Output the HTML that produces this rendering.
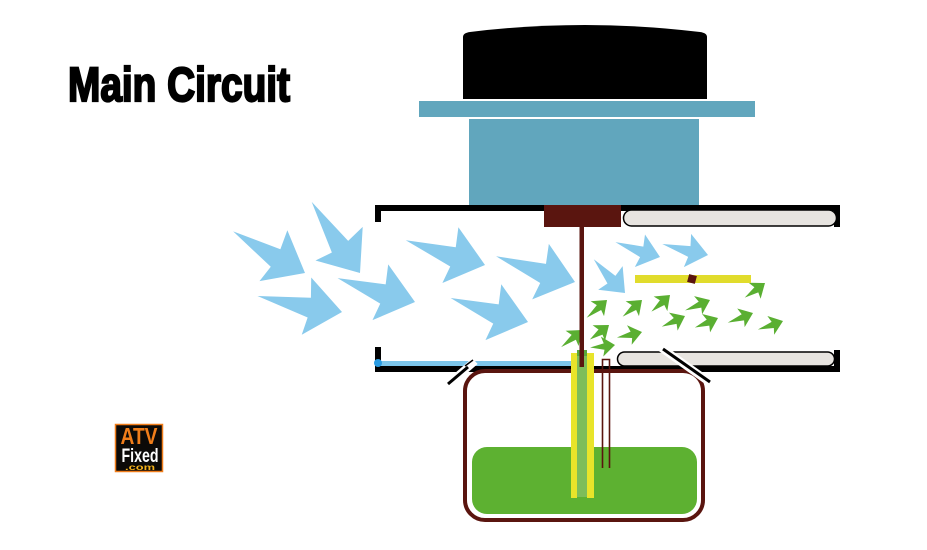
<!DOCTYPE html>
<html><head><meta charset="utf-8"><style>
html,body{margin:0;padding:0;background:#fff;}
svg{display:block;}
</style></head><body>
<svg width="927" height="550" viewBox="0 0 927 550" xmlns="http://www.w3.org/2000/svg">
<rect width="927" height="550" fill="#fff"/>
<!-- title -->
<text x="68" y="101" font-family="Liberation Sans, sans-serif" font-weight="bold" font-size="48" fill="#000" stroke="#000" stroke-width="2.2" textLength="222" lengthAdjust="spacingAndGlyphs">Main Circuit</text>

<!-- motor cap -->
<path d="M463,37 Q463,33 470,32 Q585,18 700,32 Q707,33 707,37 L707,99 L463,99 Z" fill="#000"/>
<rect x="419" y="101" width="336" height="16" fill="#61a6bd"/>
<rect x="469" y="119" width="230" height="86" fill="#61a6bd"/>

<!-- housing -->
<rect x="375" y="205" width="465" height="6" fill="#000"/>
<rect x="375" y="205" width="6" height="17" fill="#000"/>
<rect x="834" y="205" width="6" height="22" fill="#000"/>
<rect x="623.5" y="210" width="213" height="16" rx="8" fill="#e7e4e0" stroke="#000" stroke-width="1.5"/>

<rect x="375" y="347" width="6" height="25" fill="#000"/>
<rect x="375" y="366" width="465" height="6" fill="#000"/>
<rect x="834" y="350" width="6" height="22" fill="#000"/>
<rect x="378" y="361" width="194" height="5" fill="#7cc5ea"/>
<circle cx="378" cy="363" r="4" fill="#2a9be2"/>
<rect x="617.5" y="352" width="217" height="14" rx="7" fill="#e7e4e0" stroke="#000" stroke-width="1.5"/>

<!-- tank -->
<rect x="465" y="371" width="238" height="149" rx="20" fill="none" stroke="#5a150f" stroke-width="4"/>
<rect x="472" y="447" width="225" height="67" rx="15" fill="#5db131"/>

<!-- slashes -->
<line x1="445" y1="387" x2="475" y2="361" stroke="#fff" stroke-width="8"/>
<line x1="448" y1="384" x2="468" y2="367" stroke="#000" stroke-width="3"/>
<line x1="465" y1="366" x2="473" y2="360" stroke="#000" stroke-width="1.5"/>
<line x1="660" y1="347" x2="712" y2="384" stroke="#fff" stroke-width="8"/>
<line x1="663" y1="349" x2="710" y2="382" stroke="#000" stroke-width="3"/>

<!-- blue arrows -->
<g fill="#89caec">
<polygon transform="translate(305,273) rotate(28.7)" points="0,0 -36,-29 -33,-9 -83,-2 -33,11 -36,29"/>
<polygon transform="translate(360,273) rotate(54.5)" points="0,0 -36,-29 -33,-9 -86,-2 -33,11 -36,29"/>
<polygon transform="translate(342,312) rotate(9.4)" points="0,0 -36,-29 -33,-9 -86,-2 -33,11 -36,29"/>
<polygon transform="translate(415,302) rotate(15.7)" points="0,0 -36,-29 -33,-9 -81,-2 -33,11 -36,29"/>
<polygon transform="translate(485,265) rotate(16)" points="0,0 -36,-29 -33,-9 -83,-2 -33,11 -36,29"/>
<polygon transform="translate(575,282) rotate(16.7)" points="0,0 -36,-29 -33,-9 -83,-2 -33,11 -36,29"/>
<polygon transform="translate(528,322) rotate(15.8)" points="0,0 -36,-29 -33,-9 -81,-2 -33,11 -36,29"/>
<polygon transform="translate(625,293) rotate(46)" points="0,0 -21,-17 -19,-5 -46,-1 -19,6 -21,17"/>
<polygon transform="translate(660,257) rotate(17.3)" points="0,0 -21,-17 -19,-5 -47,-1 -19,6 -21,17"/>
<polygon transform="translate(708,255) rotate(12.3)" points="0,0 -21,-17 -19,-5 -47,-1 -19,6 -21,17"/>
</g>

<!-- green arrows -->
<g fill="#5aaf32">
<polygon transform="translate(607,300) rotate(-42)" points="0,0 -13,-10 -11,-3 -27,-0.5 -11,3.5 -13,10"/>
<polygon transform="translate(642,300) rotate(-41.8)" points="0,0 -13,-10 -11,-3 -25.5,-0.5 -11,3.5 -13,10"/>
<polygon transform="translate(670,295) rotate(-43)" points="0,0 -13,-10 -11,-3 -25,-0.5 -11,3.5 -13,10"/>
<polygon transform="translate(710,300) rotate(-23.7)" points="0,0 -13,-10 -11,-3 -27,-0.5 -11,3.5 -13,10"/>
<polygon transform="translate(765,283) rotate(-36.9)" points="0,0 -13,-10 -11,-3 -25,-0.5 -11,3.5 -13,10"/>
<polygon transform="translate(685,316) rotate(-25.6)" points="0,0 -13,-10 -11,-3 -25.5,-0.5 -11,3.5 -13,10"/>
<polygon transform="translate(718,318) rotate(-23.5)" points="0,0 -13,-10 -11,-3 -25,-0.5 -11,3.5 -13,10"/>
<polygon transform="translate(753,313) rotate(-21.8)" points="0,0 -13,-10 -11,-3 -27,-0.5 -11,3.5 -13,10"/>
<polygon transform="translate(783,321) rotate(-19.8)" points="0,0 -13,-10 -11,-3 -26.5,-0.5 -11,3.5 -13,10"/>
<polygon transform="translate(609,325) rotate(-38.3)" points="0,0 -13,-10 -11,-3 -24,-0.5 -11,3.5 -13,10"/>
<polygon transform="translate(642,332) rotate(-13.5)" points="0,0 -13,-10 -11,-3 -25.7,-0.5 -11,3.5 -13,10"/>
<polygon transform="translate(582,330) rotate(-40.4)" points="0,0 -13,-10 -11,-3 -27,-0.5 -11,3.5 -13,10"/>
<polygon transform="translate(615,345) rotate(-6.8)" points="0,0 -13,-10 -11,-3 -25,-0.5 -11,3.5 -13,10"/>
</g>

<!-- yellow stick -->
<rect x="635" y="275" width="116" height="8" fill="#e1dc2c"/>
<rect x="688" y="275" width="8" height="8" fill="#5a150f" transform="rotate(15 692 279)"/>

<!-- tubes -->
<rect x="577" y="352" width="10" height="145" fill="#7dbd5a"/>
<rect x="577" y="350" width="10" height="6" fill="#5aa83a"/>
<rect x="571" y="353" width="6" height="145" fill="#e8e42a"/>
<rect x="587" y="353" width="7" height="145" fill="#e8e42a"/>
<path d="M602.5,468 V359.5 H609.5 V468" fill="none" stroke="#5a150f" stroke-width="1.6"/>

<!-- shaft & hub -->
<rect x="579.5" y="225" width="4.5" height="142" fill="#5a150f"/>
<rect x="544" y="205" width="77" height="22" fill="#5a150f"/>

<!-- logo -->
<rect x="115.5" y="424.5" width="47" height="47" fill="#0c0a08" stroke="#f07d1a" stroke-width="1.5"/>
<text x="139" y="444" text-anchor="middle" font-family="Liberation Sans, sans-serif" font-weight="bold" font-size="23" fill="#f07d1a" textLength="37" lengthAdjust="spacingAndGlyphs">ATV</text>
<text x="140" y="462" text-anchor="middle" font-family="Liberation Sans, sans-serif" font-weight="bold" font-size="19" fill="#fff" textLength="37" lengthAdjust="spacingAndGlyphs">Fixed</text>
<text x="140" y="470" text-anchor="middle" font-family="Liberation Sans, sans-serif" font-weight="bold" font-size="8" fill="#f5b21a" textLength="30" lengthAdjust="spacingAndGlyphs">.com</text>
</svg>
</body></html>
